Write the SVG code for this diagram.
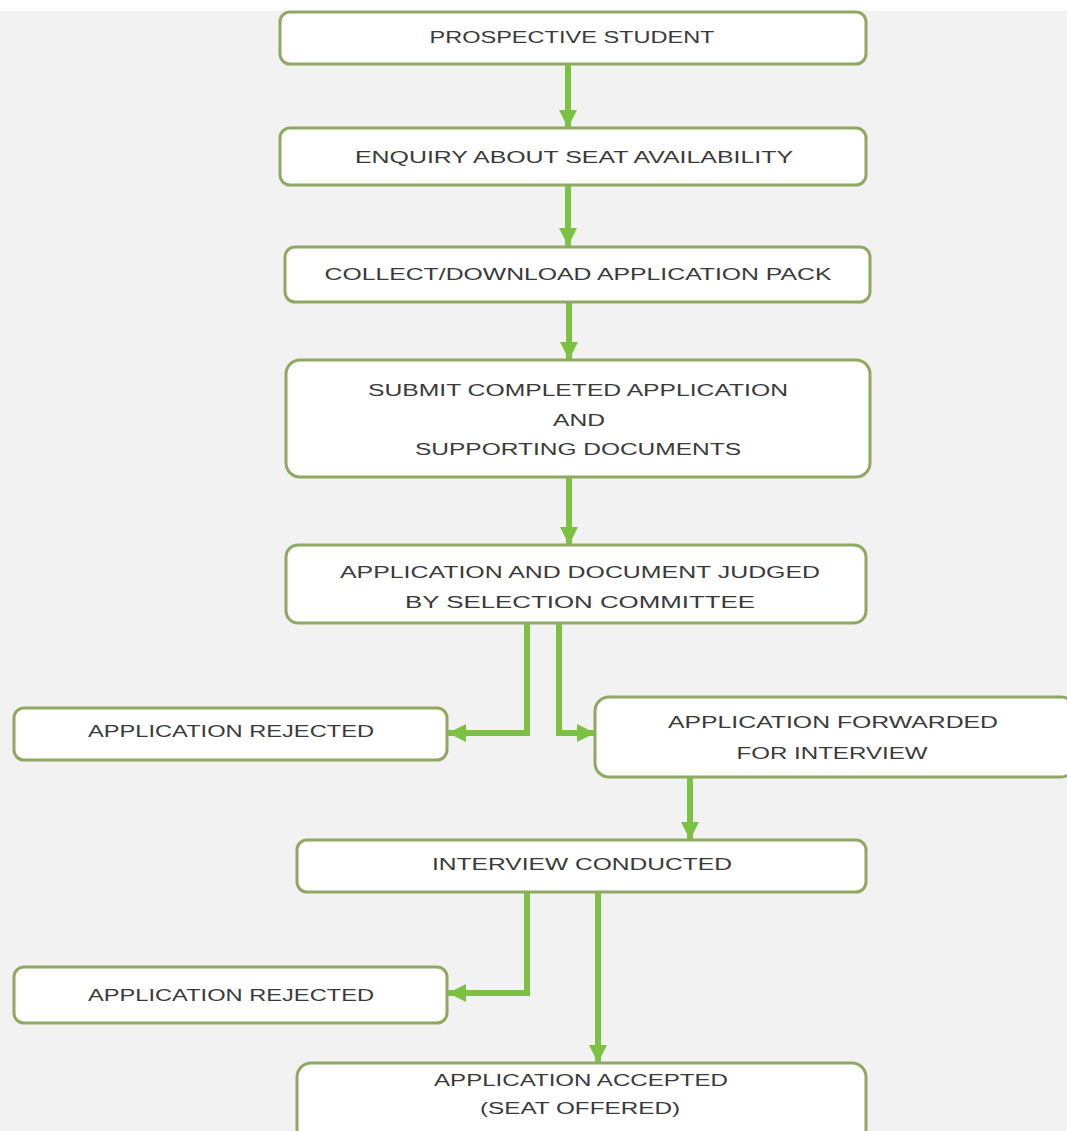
<svg xmlns="http://www.w3.org/2000/svg" width="1067" height="1131" viewBox="0 0 1067 1131">
<defs>
<style>
.box{fill:#ffffff;stroke:#8fa862;stroke-width:3}
.t{font-family:"Liberation Sans",Arial,sans-serif;font-size:16px;fill:#3a3a3a;text-anchor:middle;dominant-baseline:central}
.c{fill:none;stroke:#7cc242;stroke-width:6}
</style>
<marker id="ah" markerUnits="userSpaceOnUse" markerWidth="20" markerHeight="18" refX="18" refY="9" orient="auto">
<path d="M0,0 L18,9 L0,18 Z" fill="#7cc242"/>
</marker>
</defs>
<rect x="0" y="0" width="1067" height="1131" fill="#f2f2f2"/>
<rect x="0" y="0" width="1067" height="11" fill="#ffffff"/>
<g id="connectors">
<path class="c" d="M568,64 V128" marker-end="url(#ah)"/>
<path class="c" d="M568,185 V246" marker-end="url(#ah)"/>
<path class="c" d="M569,302 V360" marker-end="url(#ah)"/>
<path class="c" d="M569,477 V545" marker-end="url(#ah)"/>
<path class="c" d="M527,623 V733 H448" marker-end="url(#ah)"/>
<path class="c" d="M559,623 V733 H595" marker-end="url(#ah)"/>
<path class="c" d="M690,777 V840" marker-end="url(#ah)"/>
<path class="c" d="M527,892 V993 H448" marker-end="url(#ah)"/>
<path class="c" d="M598,892 V1063" marker-end="url(#ah)"/>
</g>
<g id="n1"><rect class="box" x="280" y="12" width="586" height="52" rx="10"/><text class="t" x="572" y="37" textLength="285" lengthAdjust="spacingAndGlyphs">PROSPECTIVE STUDENT</text></g>
<g id="n2"><rect class="box" x="280" y="128" width="586" height="57" rx="10"/><text class="t" x="574" y="157" textLength="438" lengthAdjust="spacingAndGlyphs">ENQUIRY ABOUT SEAT AVAILABILITY</text></g>
<g id="n3"><rect class="box" x="285" y="247" width="585" height="55" rx="10"/><text class="t" x="578" y="274" textLength="507" lengthAdjust="spacingAndGlyphs">COLLECT/DOWNLOAD APPLICATION PACK</text></g>
<g id="n4"><rect class="box" x="286" y="360" width="584" height="117" rx="14"/>
<text class="t" x="578" y="390" textLength="420" lengthAdjust="spacingAndGlyphs">SUBMIT COMPLETED APPLICATION</text>
<text class="t" x="579" y="420" textLength="52" lengthAdjust="spacingAndGlyphs">AND</text>
<text class="t" x="578" y="449" textLength="326" lengthAdjust="spacingAndGlyphs">SUPPORTING DOCUMENTS</text></g>
<g id="n5"><rect class="box" x="286" y="545" width="580" height="78" rx="12"/>
<text class="t" x="580" y="572" textLength="480" lengthAdjust="spacingAndGlyphs">APPLICATION AND DOCUMENT JUDGED</text>
<text class="t" x="580" y="602" textLength="350" lengthAdjust="spacingAndGlyphs">BY SELECTION COMMITTEE</text></g>
<g id="n6"><rect class="box" x="14" y="708" width="433" height="52" rx="10"/><text class="t" x="231" y="731" textLength="286" lengthAdjust="spacingAndGlyphs">APPLICATION REJECTED</text></g>
<g id="n7"><rect class="box" x="595" y="697" width="480" height="80" rx="14"/>
<text class="t" x="833" y="722" textLength="330" lengthAdjust="spacingAndGlyphs">APPLICATION FORWARDED</text>
<text class="t" x="832" y="753" textLength="191" lengthAdjust="spacingAndGlyphs">FOR INTERVIEW</text></g>
<g id="n8"><rect class="box" x="297" y="840" width="569" height="52" rx="10"/><text class="t" x="582" y="864" textLength="300" lengthAdjust="spacingAndGlyphs">INTERVIEW CONDUCTED</text></g>
<g id="n9"><rect class="box" x="14" y="967" width="433" height="56" rx="10"/><text class="t" x="231" y="995" textLength="286" lengthAdjust="spacingAndGlyphs">APPLICATION REJECTED</text></g>
<g id="n10"><rect class="box" x="297" y="1063" width="569" height="80" rx="14"/>
<text class="t" x="581" y="1080" textLength="294" lengthAdjust="spacingAndGlyphs">APPLICATION ACCEPTED</text>
<text class="t" x="580" y="1108" textLength="200" lengthAdjust="spacingAndGlyphs">(SEAT OFFERED)</text></g>
</svg>
